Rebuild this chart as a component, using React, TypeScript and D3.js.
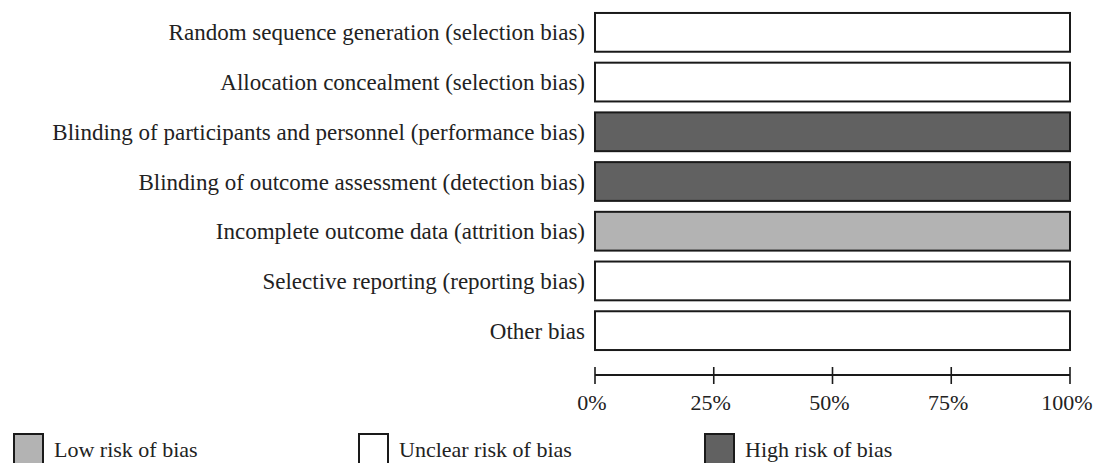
import React from "react";
import * as d3 from "d3";

const categories = [
  "Random sequence generation (selection bias)",
  "Allocation concealment (selection bias)",
  "Blinding of participants and personnel (performance bias)",
  "Blinding of outcome assessment (detection bias)",
  "Incomplete outcome data (attrition bias)",
  "Selective reporting (reporting bias)",
  "Other bias",
];
// percentages per category: low, unclear, high
const lowRisk = [0, 0, 0, 0, 100, 0, 0];
const unclearRisk = [100, 100, 0, 0, 0, 100, 100];
const highRisk = [0, 0, 100, 100, 0, 0, 0];
const ticks = [0, 25, 50, 75, 100];
const legendLabels = ["Low risk of bias", "Unclear risk of bias", "High risk of bias"];

const COLORS = { low: "#b3b3b3", unclear: "#ffffff", high: "#616161" };
const FONT = "'Liberation Serif', 'Times New Roman', serif";

export default function App() {
  const W = 1095, H = 463;
  const x = d3.scaleLinear().domain([0, 100]).range([595, 1070]);
  const y = d3.scaleBand<string>().domain(categories).range([7.5, 355.5]).paddingInner(0.22).paddingOuter(0.11);
  const stack = categories.map((c, i) => {
    const segs = [
      { key: "low", v: lowRisk[i] },
      { key: "unclear", v: unclearRisk[i] },
      { key: "high", v: highRisk[i] },
    ];
    let acc = 0;
    return segs.map((s) => {
      const r = { cat: c, key: s.key, x0: acc, x1: acc + s.v };
      acc += s.v;
      return r;
    }).filter((s) => s.x1 > s.x0);
  });
  const axisY = 375;
  const legendX = [14, 359, 705];
  return (
    <svg width={W} height={H} style={{ position: "absolute", left: 0, top: 0, background: "#fff" }}>
      {categories.map((c, i) => (
        <g key={c}>
          <text x={585} y={(y(c) as number) + y.bandwidth() / 2 + 8} textAnchor="end" fontFamily={FONT} fontSize={23} fill="#222">
            {c}
          </text>
          {stack[i].map((s) => (
            <rect key={s.key} x={x(s.x0)} y={y(c)} width={x(s.x1) - x(s.x0)} height={y.bandwidth()}
              fill={(COLORS as any)[s.key]} stroke="#1a1a1a" strokeWidth={2} />
          ))}
        </g>
      ))}
      <line x1={x(0)} x2={x(100)} y1={axisY} y2={axisY} stroke="#1a1a1a" strokeWidth={2} />
      {ticks.map((t) => (
        <g key={t}>
          <line x1={x(t)} x2={x(t)} y1={axisY - 8} y2={axisY + 9} stroke="#1a1a1a" strokeWidth={1.6} />
          <text x={x(t)} dx={-3} y={axisY + 35} textAnchor="middle" fontFamily={FONT} fontSize={22} fill="#222">{t}%</text>
        </g>
      ))}
      {legendLabels.map((l, i) => (
        <g key={l}>
          <rect x={legendX[i]} y={434} width={29} height={34} fill={[COLORS.low, COLORS.unclear, COLORS.high][i]} stroke="#1a1a1a" strokeWidth={2} />
          <text x={legendX[i] + 40} y={457} fontFamily={FONT} fontSize={22} fill="#222">{l}</text>
        </g>
      ))}
    </svg>
  );
}
